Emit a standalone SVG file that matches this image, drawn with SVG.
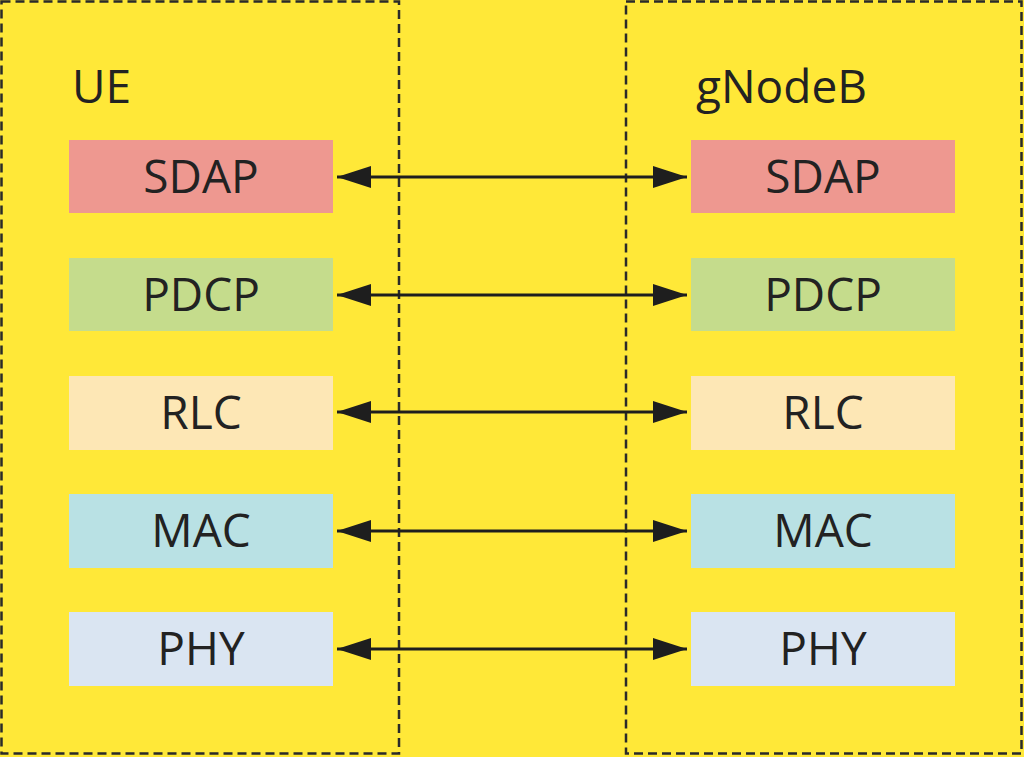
<svg xmlns="http://www.w3.org/2000/svg" width="1024" height="757" viewBox="0 0 1024 757">
<defs>
<style>
.frame{fill:none;stroke:#2a2a2a;stroke-width:2.5;stroke-dasharray:9 5}
.blk{stroke:none}
.lbl{font-family:"Open Sans","Noto Sans","Liberation Sans",sans-serif;font-size:46px;fill:#222;text-anchor:middle}
.title{font-family:"Open Sans","Noto Sans","Liberation Sans",sans-serif;font-size:46px;fill:#222}
.conn{stroke:#1e1e1e;stroke-width:3;fill:none;marker-start:url(#ah);marker-end:url(#ah)}
</style>
<marker id="ah" viewBox="0 0 34 22" refX="34" refY="11" markerWidth="34" markerHeight="22" markerUnits="userSpaceOnUse" orient="auto-start-reverse">
<path d="M0,0 L34,11 L0,22 Z" fill="#1e1e1e"/>
</marker>
</defs>
<rect x="0" y="0" width="1024" height="757" fill="#FFE838"/>
<g id="ue">
<rect class="frame" x="1.5" y="1.5" width="397.5" height="752"/>
<text class="title" x="72" y="103">UE</text>
</g>
<g id="gnodeb">
<rect class="frame" x="626" y="1.5" width="395.5" height="752"/>
<text class="title" x="696" y="103">gNodeB</text>
</g>
<g id="ue-sdap"><rect class="blk" x="69" y="140" width="264" height="73" fill="#EE9890"/><text class="lbl" x="201" y="193">SDAP</text></g>
<g id="ue-pdcp"><rect class="blk" x="69" y="258" width="264" height="73" fill="#C5DC8C"/><text class="lbl" x="201" y="311">PDCP</text></g>
<g id="ue-rlc"><rect class="blk" x="69" y="376" width="264" height="74" fill="#FDE7B5"/><text class="lbl" x="201" y="429">RLC</text></g>
<g id="ue-mac"><rect class="blk" x="69" y="494" width="264" height="74" fill="#B9E1E4"/><text class="lbl" x="201" y="547">MAC</text></g>
<g id="ue-phy"><rect class="blk" x="69" y="612" width="264" height="74" fill="#DAE5F2"/><text class="lbl" x="201" y="665">PHY</text></g>
<g id="gnb-sdap"><rect class="blk" x="691" y="140" width="264" height="73" fill="#EE9890"/><text class="lbl" x="823" y="193">SDAP</text></g>
<g id="gnb-pdcp"><rect class="blk" x="691" y="258" width="264" height="73" fill="#C5DC8C"/><text class="lbl" x="823" y="311">PDCP</text></g>
<g id="gnb-rlc"><rect class="blk" x="691" y="376" width="264" height="74" fill="#FDE7B5"/><text class="lbl" x="823" y="429">RLC</text></g>
<g id="gnb-mac"><rect class="blk" x="691" y="494" width="264" height="74" fill="#B9E1E4"/><text class="lbl" x="823" y="547">MAC</text></g>
<g id="gnb-phy"><rect class="blk" x="691" y="612" width="264" height="74" fill="#DAE5F2"/><text class="lbl" x="823" y="665">PHY</text></g>
<g id="connectors">
<line class="conn" x1="337" y1="177" x2="687" y2="177"/>
<line class="conn" x1="337" y1="295" x2="687" y2="295"/>
<line class="conn" x1="337" y1="412" x2="687" y2="412"/>
<line class="conn" x1="337" y1="531" x2="687" y2="531"/>
<line class="conn" x1="337" y1="649" x2="687" y2="649"/>
</g>
</svg>
